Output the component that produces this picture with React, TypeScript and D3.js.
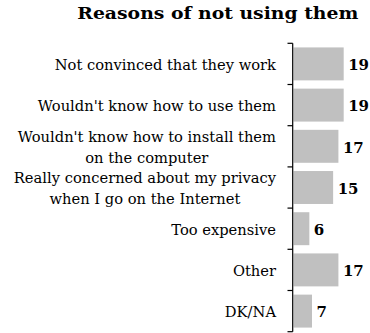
import React, { useLayoutEffect, useRef } from "react";
import * as d3 from "d3";

const categories: string[][] = [
  ["Not convinced that they work"],
  ["Wouldn't know how to use them"],
  ["Wouldn't know how to install them", "on the computer"],
  ["Really concerned about my privacy", "when I go on the Internet"],
  ["Too expensive"],
  ["Other"],
  ["DK/NA"],
];
const values: number[] = [19, 19, 17, 15, 6, 17, 7];
const title = "Reasons of not using them";

const W = 370;
const H = 333;
const FONT = "'DejaVu Serif', serif";

export default function App() {
  const ref = useRef<SVGSVGElement>(null);
  const ids = categories.map((_, i) => String(i));
  const y = d3
    .scaleBand<string>()
    .domain(ids)
    .range([43.3, 331.7])
    .paddingInner(0.2)
    .paddingOuter(0.1);
  const x = d3.scaleLinear().domain([0, 19]).range([293.5, 343.7]);
  const step = y.step();
  const y0 = y.range()[0];
  const labelRight = 276;
  const lineH = 21;

  useLayoutEffect(() => {
    if (!ref.current) return;
    const place = () => {
      d3.select(ref.current)
        .selectAll<SVGGElement, unknown>("g.cat-label")
        .each(function () {
          const texts = Array.from(this.querySelectorAll("text")) as SVGTextElement[];
          const widths = texts.map((t) => t.getComputedTextLength());
          const maxW = Math.max(...widths);
          texts.forEach((t, k) => {
            t.setAttribute("x", String(labelRight - maxW + (maxW - widths[k]) / 2));
          });
        });
    };
    place();
    if ((document as any).fonts && (document as any).fonts.ready) {
      (document as any).fonts.ready.then(place);
    }
  }, []);

  return (
    <svg
      ref={ref}
      width={W}
      height={H}
      style={{ position: "absolute", left: 0, top: 0, background: "#fff" }}
    >
      <text
        x={77.3}
        y={19.3}
        textLength={281}
        lengthAdjust="spacingAndGlyphs"
        fontFamily={FONT}
        fontWeight="bold"
        fontSize={17}
        fill="#000"
      >
        {title}
      </text>
      {values.map((v, i) => (
        <rect
          key={"b" + i}
          x={x(0)}
          y={y(ids[i])}
          width={x(v) - x(0)}
          height={y.bandwidth()}
          fill="#c0c0c0"
        />
      ))}
      <line
        x1={292.7}
        x2={292.7}
        y1={y0}
        y2={y0 + step * categories.length}
        stroke="#000"
        strokeWidth={1.2}
      />
      {d3.range(categories.length + 1).map((i) => (
        <line
          key={"t" + i}
          x1={287.5}
          x2={292.7}
          y1={y0 + i * step}
          y2={y0 + i * step}
          stroke="#000"
          strokeWidth={1.2}
        />
      ))}
      {values.map((v, i) => (
        <text
          key={"v" + i}
          x={x(v) + 4.5}
          y={(y(ids[i]) as number) + y.bandwidth() / 2 + 6.2}
          fontFamily={FONT}
          fontWeight="bold"
          fontSize={15}
          fill="#000"
        >
          {v}
        </text>
      ))}
      {categories.map((lines, i) => {
        const cy = (y(ids[i]) as number) + y.bandwidth() / 2;
        return (
          <g key={"l" + i} className="cat-label">
            {lines.map((l, j) => (
              <text
                key={j}
                x={labelRight - 200}
                y={cy + 6 + (j - (lines.length - 1) / 2) * lineH}
                fontFamily={FONT}
                fontSize={14.7}
                fill="#000"
              >
                {l}
              </text>
            ))}
          </g>
        );
      })}
    </svg>
  );
}
